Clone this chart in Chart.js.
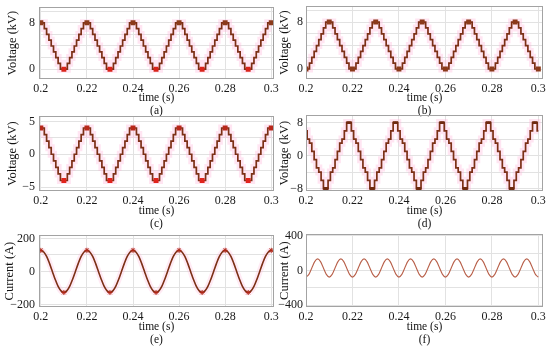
<!DOCTYPE html>
<html>
<head>
<meta charset="utf-8">
<script src="https://cdn.jsdelivr.net/npm/chart.js@4.4.1/dist/chart.umd.min.js"></script>
<style>
  html, body { margin: 0; padding: 0; background: #fff; }
  body { width: 550px; height: 351px; position: relative; overflow: hidden; }
  canvas { position: absolute; }
</style>
</head>
<body>
<canvas id="chartA" width="285" height="122" style="left:0px;top:-4px"></canvas>
<canvas id="chartB" width="274" height="122" style="left:276px;top:-4px"></canvas>
<canvas id="chartC" width="285" height="126" style="left:0px;top:105px"></canvas>
<canvas id="chartD" width="274" height="126" style="left:276px;top:105px"></canvas>
<canvas id="chartE" width="285" height="123" style="left:0px;top:224px"></canvas>
<canvas id="chartF" width="274" height="123" style="left:276px;top:224px"></canvas>
<script>
// sample times (s)
const timeStair = [
  0.200,0.201,0.202,0.203,0.204,0.205,0.206,0.207,0.208,0.209,
  0.210,0.211,0.212,0.213,0.214,0.215,0.216,0.217,0.218,0.219,
  0.220,0.221,0.222,0.223,0.224,0.225,0.226,0.227,0.228,0.229,
  0.230,0.231,0.232,0.233,0.234,0.235,0.236,0.237,0.238,0.239,
  0.240,0.241,0.242,0.243,0.244,0.245,0.246,0.247,0.248,0.249,
  0.250,0.251,0.252,0.253,0.254,0.255,0.256,0.257,0.258,0.259,
  0.260,0.261,0.262,0.263,0.264,0.265,0.266,0.267,0.268,0.269,
  0.270,0.271,0.272,0.273,0.274,0.275,0.276,0.277,0.278,0.279,
  0.280,0.281,0.282,0.283,0.284,0.285,0.286,0.287,0.288,0.289,
  0.290,0.291,0.292,0.293,0.294,0.295,0.296,0.297,0.298,0.299,
  0.300
];
const timeSine = [
  0.2,0.20125,0.2025,0.20375,0.205,0.20625,0.2075,0.20875,
  0.21,0.21125,0.2125,0.21375,0.215,0.21625,0.2175,0.21875,
  0.22,0.22125,0.2225,0.22375,0.225,0.22625,0.2275,0.22875,
  0.23,0.23125,0.2325,0.23375,0.235,0.23625,0.2375,0.23875,
  0.24,0.24125,0.2425,0.24375,0.245,0.24625,0.2475,0.24875,
  0.25,0.25125,0.2525,0.25375,0.255,0.25625,0.2575,0.25875,
  0.26,0.26125,0.2625,0.26375,0.265,0.26625,0.2675,0.26875,
  0.27,0.27125,0.2725,0.27375,0.275,0.27625,0.2775,0.27875,
  0.28,0.28125,0.2825,0.28375,0.285,0.28625,0.2875,0.28875,
  0.29,0.29125,0.2925,0.29375,0.295,0.29625,0.2975,0.29875,
  0.3
];

// (a) voltage, kV
const voltageA = [
  8,8,7,6,5,4,3,2,1,0,0,0,1,2,3,4,5,6,7,8,
  8,8,7,6,5,4,3,2,1,0,0,0,1,2,3,4,5,6,7,8,
  8,8,7,6,5,4,3,2,1,0,0,0,1,2,3,4,5,6,7,8,
  8,8,7,6,5,4,3,2,1,0,0,0,1,2,3,4,5,6,7,8,
  8,8,7,6,5,4,3,2,1,0,0,0,1,2,3,4,5,6,7,8,
  8
];
// (b) voltage, kV
const voltageB = [
  0,0,1,2,3,4,5,6,7,8,8,8,7,6,5,4,3,2,1,0,
  0,0,1,2,3,4,5,6,7,8,8,8,7,6,5,4,3,2,1,0,
  0,0,1,2,3,4,5,6,7,8,8,8,7,6,5,4,3,2,1,0,
  0,0,1,2,3,4,5,6,7,8,8,8,7,6,5,4,3,2,1,0,
  0,0,1,2,3,4,5,6,7,8,8,8,7,6,5,4,3,2,1,0,
  0
];
// (c) voltage, kV
const voltageC = [
  4,4,3,2,1,0,-1,-2,-3,-4,-4,-4,-3,-2,-1,0,1,2,3,4,
  4,4,3,2,1,0,-1,-2,-3,-4,-4,-4,-3,-2,-1,0,1,2,3,4,
  4,4,3,2,1,0,-1,-2,-3,-4,-4,-4,-3,-2,-1,0,1,2,3,4,
  4,4,3,2,1,0,-1,-2,-3,-4,-4,-4,-3,-2,-1,0,1,2,3,4,
  4,4,3,2,1,0,-1,-2,-3,-4,-4,-4,-3,-2,-1,0,1,2,3,4,
  4
];
// (d) voltage, kV
const voltageD = [
  6,4,3,1,-1,-3,-4,-6,-8,-8,-6,-4,-3,-1,1,3,4,6,8,8,
  6,4,3,1,-1,-3,-4,-6,-8,-8,-6,-4,-3,-1,1,3,4,6,8,8,
  6,4,3,1,-1,-3,-4,-6,-8,-8,-6,-4,-3,-1,1,3,4,6,8,8,
  6,4,3,1,-1,-3,-4,-6,-8,-8,-6,-4,-3,-1,1,3,4,6,8,8,
  6,4,3,1,-1,-3,-4,-6,-8,-8,-6,-4,-3,-1,1,3,4,6,8,8,
  6
];
// (e) current, A
const currentE = [
  128,118,91,49,0,-49,-91,-118,-128,-118,-91,-49,0,49,91,118,
  128,118,91,49,0,-49,-91,-118,-128,-118,-91,-49,0,49,91,118,
  128,118,91,49,0,-49,-91,-118,-128,-118,-91,-49,0,49,91,118,
  128,118,91,49,0,-49,-91,-118,-128,-118,-91,-49,0,49,91,118,
  128,118,91,49,0,-49,-91,-118,-128,-118,-91,-49,0,49,91,118,
  128
];
// (f) current, A
const currentF = [
  -75,-44,30,104,135,104,30,-44,
  -75,-44,30,104,135,104,30,-44,
  -75,-44,30,104,135,104,30,-44,
  -75,-44,30,104,135,104,30,-44,
  -75,-44,30,104,135,104,30,-44,
  -75,-44,30,104,135,104,30,-44,
  -75,-44,30,104,135,104,30,-44,
  -75,-44,30,104,135,104,30,-44,
  -75,-44,30,104,135,104,30,-44,
  -75,-44,30,104,135,104,30,-44,
  -75
];

const xTickValues = [0.2, 0.22, 0.24, 0.26, 0.28, 0.3];
const xTickLabels = ['0.2', '0.22', '0.24', '0.26', '0.28', '0.3'];
const panelLabels = ['(a)', '(b)', '(c)', '(d)', '(e)', '(f)'];

const serif = "'Liberation Serif', 'Times New Roman', serif";
const gridColor = '#e2e2e2';
const lineColor = '#7c3016';
const haloColor = 'rgba(255,175,215,0.32)';

// grey frame round the plot area
const boxPlugin = {
  id: 'box',
  afterDraw(chart) {
    const a = chart.chartArea, ctx = chart.ctx;
    ctx.save();
    ctx.strokeStyle = '#a3a3a3';
    ctx.lineWidth = 1;
    ctx.strokeRect(Math.round(a.left) + 0.5, Math.round(a.top) + 0.5,
      Math.round(a.right - a.left) - 1, Math.round(a.bottom - a.top) - 1);
    ctx.restore();
  }
};

function toPoints(times, values) {
  return times.map((t, i) => ({ x: t, y: values[i] }));
}

function fmt(v) {
  return v < 0 ? '\u2212' + Math.abs(v) : String(v);
}

function isPeak(c, values, all) {
  const i = c.dataIndex;
  if (i === undefined) return false;
  const v = values[i];
  const hi = Math.max(...values), lo = Math.min(...values);
  if (v !== hi && v !== lo) return false;
  if (all) return true;
  return (i === 0 || values[i - 1] === v) && (i === values.length - 1 || values[i + 1] === v);
}

function stairSets(values, topColor, bottomColor, all, size) {
  const pts = toPoints(timeStair, values);
  const hi = Math.max(...values);
  return [
    { data: pts, stepped: 'middle', borderColor: lineColor, borderWidth: 1.7, order: 1,
      pointStyle: 'rect', pointBorderWidth: 0,
      pointRadius: c => isPeak(c, values, all) ? size : 0,
      pointBackgroundColor: c => values[c.dataIndex] === hi ? topColor : bottomColor },
    { data: pts, stepped: 'middle', borderColor: haloColor, borderWidth: 7, pointRadius: 0, order: 2 }
  ];
}

function makePanel(id, p) {
  new Chart(document.getElementById(id), {
    type: 'line',
    data: { datasets: p.datasets },
    options: {
      responsive: false,
      animation: false,
      events: [],
      layout: { padding: { top: 10, right: p.right, left: 0, bottom: 0 } },
      plugins: { legend: { display: false }, tooltip: { enabled: false } },
      scales: {
        x: {
          type: 'linear', min: p.xMin, max: p.xMax,
          afterBuildTicks: s => { s.ticks = xTickValues.map(v => ({ value: v })); },
          afterFit: s => { s.height = p.xH; },
          ticks: { callback: (v, i) => xTickLabels[i], autoSkip: false, maxRotation: 0,
            padding: 3, color: '#1a1a1a', font: { family: serif, size: 12 } },
          grid: { color: gridColor, drawTicks: false },
          border: { display: false },
          title: { display: true, text: ['time (s)', p.label], color: '#111', padding: 0,
            font: { family: serif, size: 11.5, lineHeight: 1.15 } }
        },
        y: {
          min: p.yMin, max: p.yMax,
          afterBuildTicks: s => { s.ticks = p.yGrid.map(v => ({ value: v })); },
          afterFit: s => { s.width = p.yW; },
          ticks: { callback: v => p.yLabels.includes(v) ? fmt(v) : '', autoSkip: false,
            padding: p.tickPad, color: '#1a1a1a', font: { family: serif, size: 12 } },
          grid: { color: gridColor, drawTicks: false },
          border: { display: false },
          title: { display: true, text: p.yTitle, color: '#111', padding: { top: p.titlePad, bottom: 0 },
            font: { family: serif, size: 12.5, lineHeight: 1.2 } }
        }
      }
    },
    plugins: [boxPlugin]
  });
}

const leftCol = { xMin: 0.1992, xMax: 0.3012, right: 11, yW: 39, tickPad: 4, titlePad: 5 };
const rightCol = { xMin: 0.2, xMax: 0.302, right: 7, yW: 30, tickPad: 3, titlePad: 1.5 };

makePanel('chartA', Object.assign({}, leftCol, {
  label: panelLabels[0], xH: 39, yTitle: 'Voltage (kV)',
  yMin: -1.7, yMax: 10.7, yGrid: [0, 2, 4, 6, 8, 10], yLabels: [0, 8],
  datasets: stairSets(voltageA, '#8b3a1a', '#d9241a', false, 3.5)
}));
makePanel('chartB', Object.assign({}, rightCol, {
  label: panelLabels[1], xH: 39, yTitle: 'Voltage (kV)',
  yMin: -1.7, yMax: 10.7, yGrid: [0, 2, 4, 6, 8, 10], yLabels: [0, 8],
  datasets: stairSets(voltageB, '#8b3a1a', '#8b3a1a', false, 3.5)
}));
makePanel('chartC', Object.assign({}, leftCol, {
  label: panelLabels[2], xH: 40, yTitle: 'Voltage (kV)',
  yMin: -5.6, yMax: 5.8, yGrid: [-5, -2.5, 0, 2.5, 5], yLabels: [-5, 0, 5],
  datasets: stairSets(voltageC, '#b8281a', '#e0241c', false, 3.5)
}));
makePanel('chartD', Object.assign({}, rightCol, {
  label: panelLabels[3], xH: 40, yTitle: 'Voltage (kV)',
  yMin: -8.6, yMax: 9.8, yGrid: [-8, -4, 0, 4, 8], yLabels: [-8, 0, 8],
  datasets: stairSets(voltageD, '#6e2a10', '#6e2a10', true, 2)
}));

const ptsE = toPoints(timeSine, currentE);
makePanel('chartE', Object.assign({}, leftCol, {
  label: panelLabels[4], xH: 40, yTitle: 'Current (A)', titlePad: 2.5,
  yMin: -216, yMax: 220, yGrid: [-200, -100, 0, 100, 200], yLabels: [-200, 0, 200],
  datasets: [
    { data: ptsE, cubicInterpolationMode: 'monotone', borderColor: lineColor, borderWidth: 1.6, order: 1,
      pointStyle: 'star', pointBorderColor: '#b02818', pointBorderWidth: 1,
      pointRadius: c => isPeak(c, currentE, true) ? 2.5 : 0 },
    { data: ptsE, cubicInterpolationMode: 'monotone', borderColor: 'rgba(255,180,215,0.28)', borderWidth: 6, pointRadius: 0, order: 2 }
  ]
}));
makePanel('chartF', Object.assign({}, rightCol, {
  label: panelLabels[5], xH: 40, yTitle: 'Current (A)',
  yMin: -420, yMax: 420, yGrid: [-400, -200, 0, 200, 400], yLabels: [-400, 0, 400],
  datasets: [
    { data: toPoints(timeSine, currentF), cubicInterpolationMode: 'monotone', borderColor: '#b8604a', borderWidth: 1.1, pointRadius: 0 }
  ]
}));
</script>
</body>
</html>
